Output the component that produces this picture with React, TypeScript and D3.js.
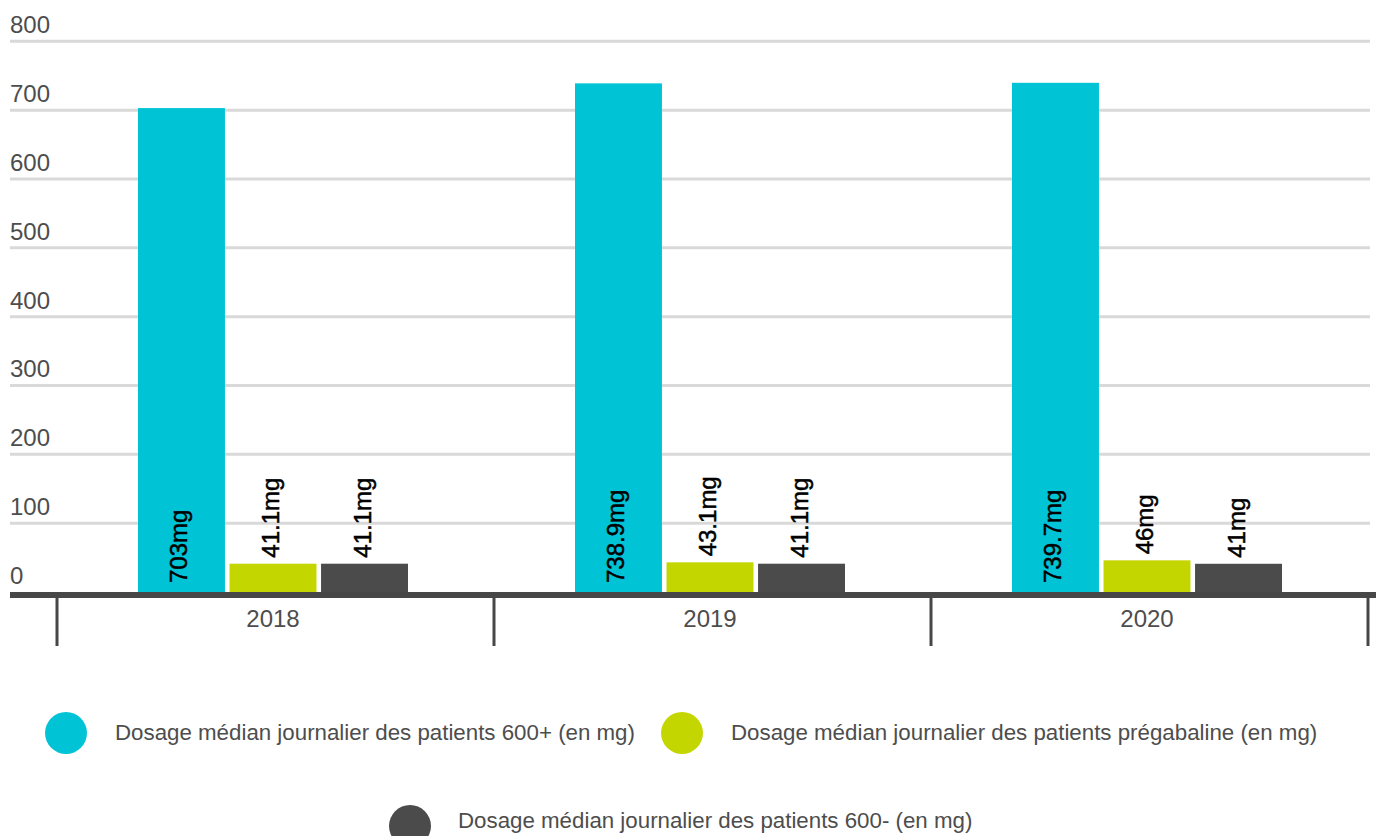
import React from "react";
import * as d3 from "d3";

const years = ["2018", "2019", "2020"];
const seriesNames = [
  "Dosage médian journalier des patients 600+ (en mg)",
  "Dosage médian journalier des patients prégabaline (en mg)",
  "Dosage médian journalier des patients 600- (en mg)",
];
const seriesColors = ["#00C4D6", "#C4D600", "#4B4B4B"];
const values600Plus = [703, 738.9, 739.7];
const valuesPregabaline = [41.1, 43.1, 46];
const values600Minus = [41.1, 41.1, 41];
const yTicks = [0, 100, 200, 300, 400, 500, 600, 700, 800];

const W = 1380;
const H = 836;
const FONT = "'Liberation Sans', Arial, Helvetica, sans-serif";

export default function App() {
  const seriesValues = [values600Plus, valuesPregabaline, values600Minus];
  const y = d3.scaleLinear().domain([0, 800]).range([592, 41.3]);
  const x0 = d3.scaleBand<string>().domain(years).range([57, 1368]);
  const x1 = d3
    .scaleBand<number>()
    .domain([0, 1, 2])
    .range([81, 351])
    .paddingInner(0.05);
  const fmt = (v: number) => `${v}mg`;

  const legendPos = [
    { cx: 66, cy: 733, tx: 115, ty: 740 },
    { cx: 682, cy: 733, tx: 731, ty: 740 },
    { cx: 410, cy: 826, tx: 458, ty: 828 },
  ];

  return (
    <svg
      width={W}
      height={H}
      style={{ position: "absolute", left: 0, top: 0, background: "#fff" }}
      fontFamily={FONT}
    >
      {/* gridlines */}
      {yTicks.map((t) => (
        <g key={t}>
          {t > 0 && (
            <line x1={10} x2={1370} y1={y(t)} y2={y(t)} stroke="#D9D9D9" strokeWidth={3} />
          )}
          <text x={10} y={y(t) - 8} fontSize={24} fill="#4d4d4d">
            {t}
          </text>
        </g>
      ))}

      {/* bars */}
      {years.map((yr, i) => (
        <g key={yr} transform={`translate(${x0(yr)},0)`}>
          {seriesValues.map((vals, s) => {
            const v = vals[i];
            const bx = x1(s)!;
            const bw = x1.bandwidth();
            const top = y(v);
            const cx = bx + bw / 2;
            const inside = v > 200;
            const ly = inside ? y(0) - 9 : top - 6;
            return (
              <g key={s}>
                <rect x={bx} y={top} width={bw} height={y(0) - top} fill={seriesColors[s]} />
                <text
                  transform={`translate(${cx},${ly}) rotate(-90)`}
                  dy={6}
                  fontSize={24}
                  fill="#000"
                  stroke="#000"
                  strokeWidth={0.5}
                  textAnchor="start"
                >
                  {fmt(v)}
                </text>
              </g>
            );
          })}
          <text
            x={x1(0)! + (x1(2)! + x1.bandwidth() - x1(0)!) / 2}
            y={627}
            fontSize={24}
            fill="#4d4d4d"
            textAnchor="middle"
          >
            {yr}
          </text>
        </g>
      ))}

      {/* axis */}
      <line x1={10} x2={1376} y1={595} y2={595} stroke="#474747" strokeWidth={6} />
      {[...years.map((yr) => x0(yr)!), 1368].map((tx, i) => (
        <line key={i} x1={tx} x2={tx} y1={598} y2={646} stroke="#474747" strokeWidth={3} />
      ))}

      {/* legend */}
      {seriesNames.map((name, s) => (
        <g key={name}>
          <circle cx={legendPos[s].cx} cy={legendPos[s].cy} r={21} fill={seriesColors[s]} />
          <text x={legendPos[s].tx} y={legendPos[s].ty} fontSize={22.3} fill="#4d4d4d">
            {name}
          </text>
        </g>
      ))}
    </svg>
  );
}
